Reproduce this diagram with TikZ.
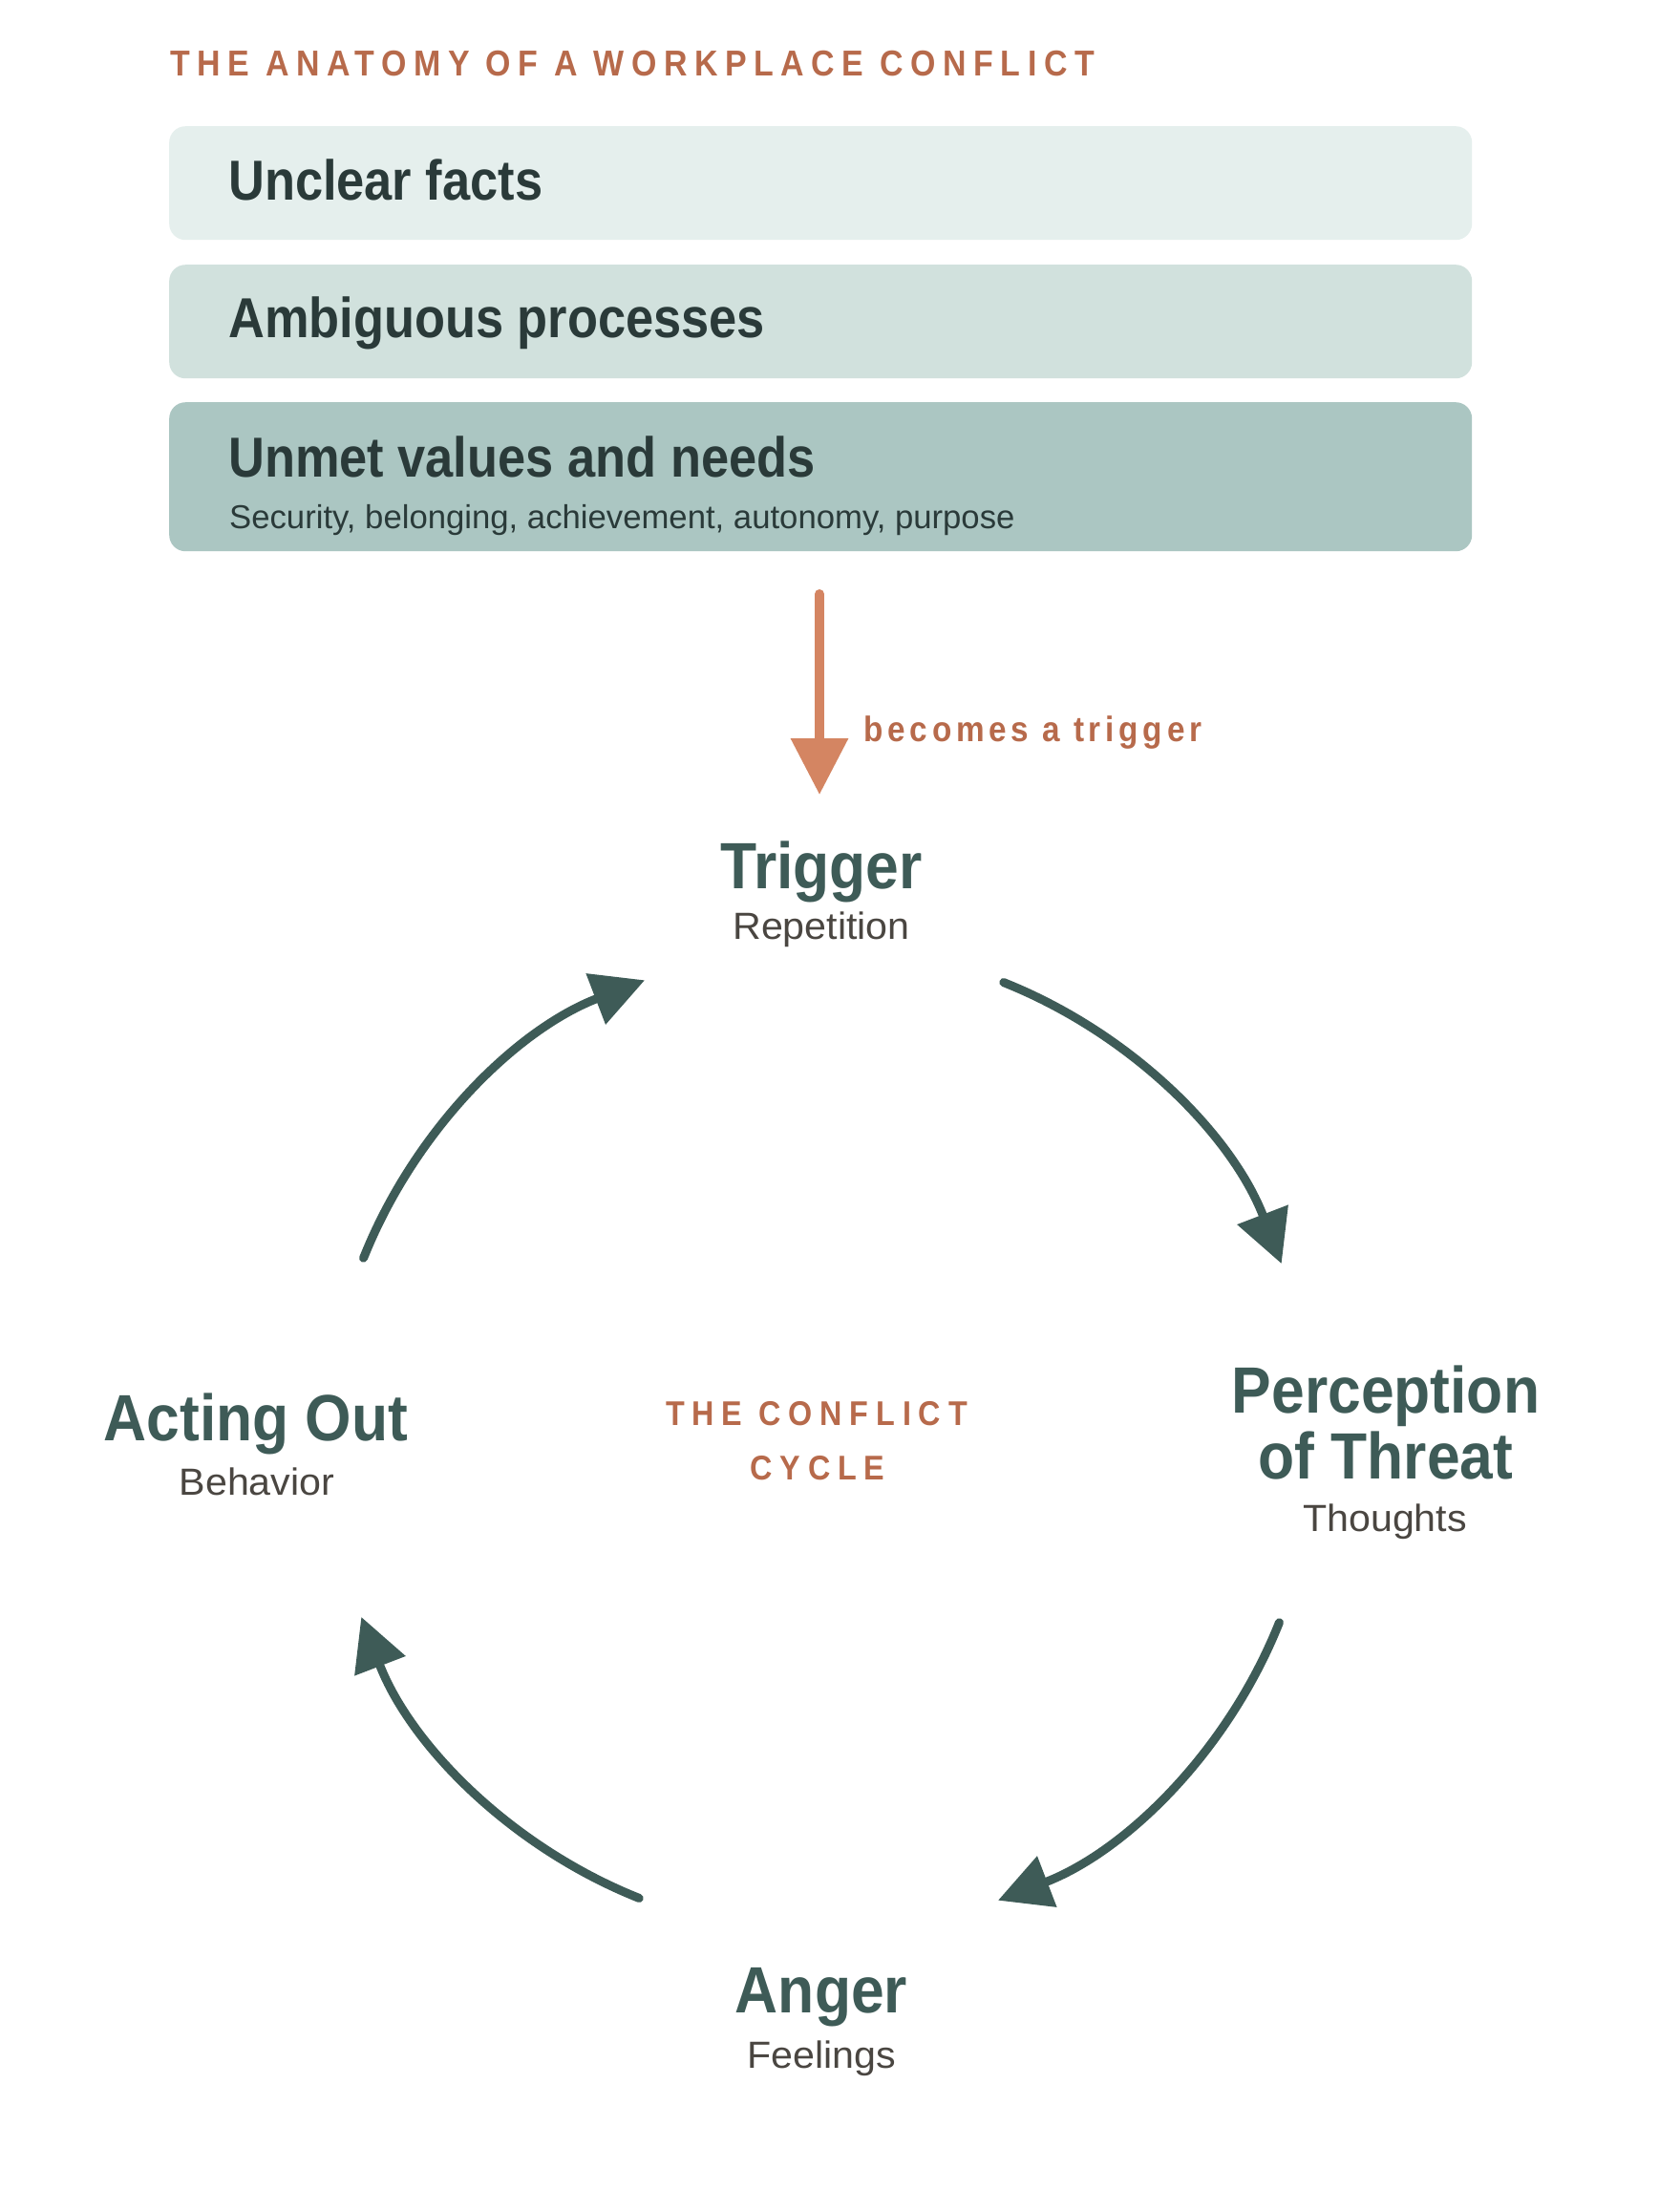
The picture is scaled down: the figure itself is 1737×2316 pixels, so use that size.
\documentclass[tikz,border=0pt]{standalone}
\usepackage{fontspec}
\setmainfont{Liberation Sans}
\newfontfamily\boxfont{Liberation Sans}[FakeStretch=0.888]
\newfontfamily\headfont{Liberation Sans}[FakeStretch=0.91]
\newfontfamily\subfont{Liberation Sans}[FakeStretch=1.04]
\newfontfamily\titlefont{Liberation Sans}[FakeStretch=0.9,LetterSpace=20]
\newfontfamily\cyclefont{Liberation Sans}[FakeStretch=0.9,LetterSpace=22]
\newfontfamily\becfont{Liberation Sans}[FakeStretch=0.9,LetterSpace=13]
\usetikzlibrary{arrows.meta}
\definecolor{boxA}{HTML}{E5EFED}
\definecolor{boxB}{HTML}{D1E1DD}
\definecolor{boxC}{HTML}{ABC6C2}
\definecolor{boxtext}{HTML}{2A3A39}
\definecolor{tealhead}{HTML}{3E5B57}
\definecolor{subgray}{HTML}{4A4641}
\definecolor{titleorange}{HTML}{B76A4B}
\definecolor{arroworange}{HTML}{D48562}
\begin{document}
\begin{tikzpicture}[x=1pt,y=1pt,
  panel/.style={rounded corners=17pt, draw=none, minimum width=1364pt, anchor=north west, inner sep=0pt},
  panelhead/.style={anchor=base west, inner sep=0pt, text=boxtext, font={\boxfont\bfseries\fontsize{59}{70}\selectfont}},
  panelsub/.style={anchor=base west, inner sep=0pt, text=boxtext, font={\fontsize{34.7}{42}\selectfont}},
  stagehead/.style={anchor=base, inner sep=0pt, text=tealhead, font={\headfont\bfseries\fontsize{68.5}{69}\selectfont}, align=center},
  stagesub/.style={anchor=base, inner sep=0pt, text=subgray, font={\subfont\fontsize{39.6}{46}\selectfont}},
  centrelabel/.style={anchor=base, inner sep=0pt, text=titleorange, font={\cyclefont\bfseries\fontsize{35.9}{43}\selectfont}},
  cyc/.style={draw=tealhead, line width=9pt, line cap=round, -{Triangle[length=55pt,width=55pt]}},
  feed/.style={draw=arroworange, line width=10pt, line cap=round, -{Triangle[length=59pt,width=58pt]}}
]
\path[use as bounding box, fill=white] (0,0) rectangle (1737,-2316);

% title
\node[anchor=base west, inner sep=0pt, text=titleorange, font={\titlefont\bfseries\fontsize{37.7}{45}\selectfont}] (title) at (178,-79) {THE ANATOMY OF A WORKPLACE CONFLICT};

% panels
\node[panel, fill=boxA, minimum height=119pt] (b1) at (177,-132) {};
\node[panel, fill=boxB, minimum height=119pt] (b2) at (177,-277) {};
\node[panel, fill=boxC, minimum height=156pt] (b3) at (177,-421) {};
\node[panelhead] (t1) at (239,-209) {Unclear facts};
\node[panelhead] (t2) at (239,-353) {Ambiguous processes};
\node[panelhead] (t3) at (239,-499) {Unmet values and needs};
\node[panelsub] (t3s) at (240,-553) {Security, belonging, achievement, autonomy, purpose};

% feed arrow
\coordinate (feedS) at (858,-622);
\coordinate (feedE) at (858,-832);
\draw[feed] (feedS) -- (feedE);
\node[anchor=base west, inner sep=0pt, text=titleorange, font={\becfont\bfseries\fontsize{37}{44}\selectfont}] (bec) at (904,-776) {becomes a trigger};

% stages
\node[stagehead] (trig) at (860,-930) {Trigger};
\node[stagesub] (trigs) at (860,-983) {Repetition};
\node[stagehead] (perc1) at (1451,-1479) {Perception};
\node[stagehead] (perc2) at (1451,-1548) {of Threat};
\node[stagesub] (percs) at (1450,-1603) {Thoughts};
\node[stagehead] (anger) at (860,-2107) {Anger};
\node[stagesub] (angers) at (860,-2165) {Feelings};
\node[stagehead] (act) at (268,-1508) {Acting Out};
\node[stagesub] (acts) at (269,-1565) {Behavior};

% centre label
\node[centrelabel] (cyc1) at (855,-1492) {THE CONFLICT};
\node[centrelabel] (cyc2) at (856,-1549) {CYCLE};

% cycle arcs
\coordinate (C) at (860,-1508);
\path (C) ++(158.3:516) coordinate (tlS);
\path (C) ++(68.3:516) coordinate (trS);
\path (C) ++(-21.7:516) coordinate (brS);
\path (C) ++(-111.7:516) coordinate (blS);
\draw[cyc] (tlS) arc[start angle=158.3, end angle=111, radius=516];
\draw[cyc] (trS) arc[start angle=68.3, end angle=21, radius=516];
\draw[cyc] (brS) arc[start angle=-21.7, end angle=-69, radius=516];
\draw[cyc] (blS) arc[start angle=-111.7, end angle=-159, radius=516];
\end{tikzpicture}
\end{document}
